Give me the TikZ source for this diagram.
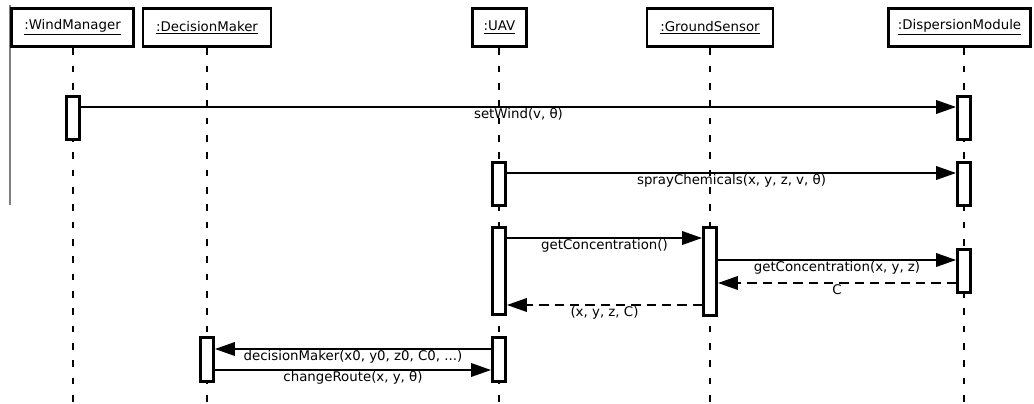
\documentclass[tikz,border=0pt]{standalone}
\usepackage{fontspec}
\setmainfont{DejaVu Sans}
\usetikzlibrary{arrows.meta}
\begin{document}
\begin{tikzpicture}[x=0.75pt,y=-0.75pt,
  head/.style={draw, line width=2.1pt, fill=white, minimum height=29pt, inner sep=0pt, font=\fontsize{10}{12}\selectfont},
  act/.style={draw, line width=1.8pt, fill=white, minimum width=10pt, inner sep=0pt},
  life/.style={line width=1.4pt, dash pattern=on 5pt off 8pt},
  msg/.style={line width=1.8pt, -{Triangle[length=15pt,width=10pt]}},
  ret/.style={msg, dash pattern=on 7pt off 4.5pt},
  lab/.style={font=\fontsize{10}{12}\selectfont, anchor=north, inner sep=0pt, fill=none}]
\useasboundingbox (0,0) rectangle (1034,403);
% left gray line
\draw[gray, line width=1pt] (10,5) coordinate (gtop) -- (10,205) coordinate (gbot);
% headers
\node[head, minimum width=92pt] (wm) at (72.5,27.5) {\underline{:WindManager}};
\node[head, minimum width=96pt] (dm) at (207,27.5) {\underline{:DecisionMaker}};
\node[head, minimum width=41pt] (uav) at (499.5,27.5) {\underline{:UAV}};
\node[head, minimum width=94.5pt] (gs) at (710,27.5) {\underline{:GroundSensor}};
\node[head, minimum width=107pt] (dmod) at (959.5,27.5) {\underline{:DispersionModule}};
% lifeline ends
\coordinate (wmE) at (73,403);
\coordinate (dmE) at (207,403);
\coordinate (uavE) at (499,403);
\coordinate (gsE) at (710,403);
\coordinate (dmodE) at (964,403);
\draw[life] (wm.south -| wmE) -- (wmE);
\draw[life] (dm.south -| dmE) -- (dmE);
\draw[life] (uav.south -| uavE) -- (uavE);
\draw[life] (gs.south -| gsE) -- (gsE);
\draw[life] (dmod.south -| dmodE) -- (dmodE);
% activations
\node[act, minimum height=32pt] (wA) at (73,118) {};
\node[act, minimum height=32pt] (dA1) at (964,118) {};
\node[act, minimum height=32pt] (uA1) at (499,184) {};
\node[act, minimum height=32pt] (dA2) at (964,184) {};
\node[act, minimum height=65pt] (uA2) at (499,271) {};
\node[act, minimum height=66pt] (gA) at (710,271.5) {};
\node[act, minimum height=32pt] (dA3) at (964,271) {};
\node[act, minimum height=33pt] (uA3) at (499,359.5) {};
\node[act, minimum height=33pt] (mA) at (207,359.5) {};
% messages
\draw[msg] (wA.east |- 0,107) -- (dA1.west |- 0,107) node[lab, midway] {setWind(v, θ)};
\draw[msg] (uA1.east |- 0,173) -- (dA2.west |- 0,173) node[lab, midway] {sprayChemicals(x, y, z, v, θ)};
\draw[msg] (uA2.east |- 0,238) -- (gA.west |- 0,238) node[lab, midway] {getConcentration()};
\draw[msg] (gA.east |- 0,260) -- (dA3.west |- 0,260) node[lab, midway] {getConcentration(x, y, z)};
\draw[ret] (dA3.west |- 0,283) -- (gA.east |- 0,283) node[lab, midway] {C};
\draw[ret] (gA.west |- 0,305) -- (uA2.east |- 0,305) node[lab, midway] {(x, y, z, C)};
\draw[msg] (uA3.west |- 0,349) -- (mA.east |- 0,349) node[lab, midway] {decisionMaker(x0, y0, z0, C0, ...)};
\draw[msg] (mA.east |- 0,370) -- (uA3.west |- 0,370) node[lab, midway] {changeRoute(x, y, θ)};
\end{tikzpicture}
\end{document}
